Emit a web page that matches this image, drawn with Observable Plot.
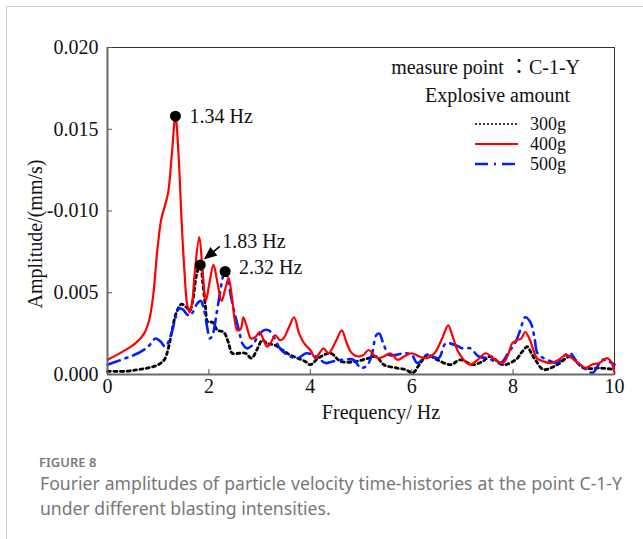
<!DOCTYPE html>
<html><head><meta charset="utf-8">
<script src="https://cdn.jsdelivr.net/npm/d3@7"></script>
<script src="https://cdn.jsdelivr.net/npm/@observablehq/plot@0.6"></script>
<style>
html,body{margin:0;padding:0;background:#fff;width:643px;height:539px;overflow:hidden;}
#lineTop{position:absolute;left:6px;top:6px;width:637px;height:0;border-top:1.5px solid #cfcfcf;}
#lineLeft{position:absolute;left:6px;top:6px;width:0;height:533px;border-left:1.5px solid #cfcfcf;}
#chart{position:absolute;left:0;top:0;}
#figlabel{position:absolute;left:39px;top:456px;font-family:"Noto Sans",sans-serif;font-size:13px;line-height:12px;font-weight:600;color:#7a7a7a;}
#caption{position:absolute;left:40px;top:471px;width:582px;text-align:justify;font-family:"Noto Sans",sans-serif;font-size:17.6px;line-height:25px;color:#777;}
</style></head>
<body>
<div id="lineTop"></div><div id="lineLeft"></div>
<div id="chart"></div>
<div id="figlabel">FIGURE 8</div>
<div id="caption">Fourier amplitudes of particle velocity time-histories at the point C-1-Y under different blasting intensities.</div>
<script>
// ---- data ----
const seriesNames = ["300g", "400g", "500g"];
const xTicks = [0, 2, 4, 6, 8, 10];
const xTickLabels = ["0", "2", "4", "6", "8", "10"];
const yTicks = [0, 0.005, 0.010, 0.015, 0.020];
const yTickLabels = ["0.000", "0.005", "-0.010", "0.015", "0.020"];

const freq300 = [0,0.36,0.6,0.8,1.0,1.12,1.2,1.28,1.36,1.46,1.56,1.62,1.68,1.75,1.83,1.88,1.93,1.98,2.07,2.17,2.29,2.38,2.46,2.6,2.72,2.84,2.96,3.05,3.15,3.3,3.45,3.6,3.75,3.9,4.0,4.16,4.4,4.6,4.9,5.15,5.3,5.45,5.7,5.88,6.02,6.15,6.31,6.5,6.77,6.96,7.2,7.4,7.55,7.8,8.05,8.18,8.28,8.36,8.44,8.6,8.87,9.13,9.39,9.72,10];
const amp300  = [0.0002,0.0002,0.0003,0.0004,0.0006,0.0009,0.0016,0.0028,0.0038,0.0043,0.0041,0.0039,0.0045,0.0060,0.0068,0.0056,0.0042,0.0032,0.0032,0.0027,0.0026,0.0020,0.0013,0.0013,0.0013,0.0010,0.0016,0.0021,0.0019,0.0018,0.0015,0.0012,0.0010,0.0008,0.0006,0.0010,0.0013,0.0008,0.0008,0.0010,0.0011,0.0006,0.0004,0.0003,0.0001,0.0006,0.0012,0.0009,0.0006,0.0009,0.0006,0.0008,0.0011,0.0006,0.0009,0.0014,0.0017,0.0013,0.0009,0.0003,0.0006,0.0011,0.0004,0.0004,0.0003];

const freq400 = [0,0.3,0.55,0.72,0.82,0.9,0.98,1.06,1.14,1.2,1.27,1.34,1.40,1.46,1.52,1.57,1.62,1.67,1.72,1.81,1.87,1.94,2.01,2.09,2.17,2.25,2.32,2.39,2.46,2.56,2.63,2.68,2.75,2.83,2.92,3.0,3.08,3.15,3.23,3.31,3.4,3.47,3.58,3.68,3.78,3.88,4.0,4.1,4.18,4.26,4.36,4.5,4.62,4.72,4.82,4.95,5.05,5.15,5.25,5.33,5.45,5.58,5.72,5.85,6.0,6.15,6.3,6.45,6.6,6.72,6.8,6.9,7.0,7.15,7.3,7.46,7.6,7.8,7.9,7.98,8.08,8.16,8.24,8.32,8.4,8.47,8.6,8.75,8.9,9.05,9.2,9.33,9.43,9.55,9.7,9.85,9.93,10];
const amp400  = [0.0009,0.0014,0.0019,0.0025,0.0033,0.0048,0.0075,0.0095,0.0104,0.0112,0.0135,0.0158,0.0135,0.0095,0.0062,0.0043,0.0038,0.0044,0.0062,0.0084,0.0066,0.0045,0.0056,0.0067,0.0056,0.0045,0.0052,0.0059,0.0046,0.0027,0.0028,0.0035,0.0029,0.0022,0.0023,0.0026,0.0021,0.0017,0.0020,0.0024,0.0021,0.0022,0.0029,0.0035,0.0025,0.0019,0.0015,0.0010,0.0013,0.0016,0.0013,0.0020,0.0027,0.0019,0.0013,0.0011,0.0012,0.0015,0.0012,0.0010,0.0011,0.0013,0.0009,0.0011,0.0013,0.0011,0.0010,0.0013,0.0022,0.0030,0.0024,0.0015,0.0010,0.0006,0.0009,0.0013,0.0010,0.0007,0.0012,0.0019,0.0021,0.0022,0.0026,0.0022,0.0015,0.0010,0.0008,0.0007,0.0009,0.0012,0.0009,0.0006,0.0004,0.0006,0.0007,0.0010,0.0008,0.0001];

const freq500 = [0,0.36,0.6,0.8,0.95,1.05,1.14,1.24,1.32,1.4,1.48,1.56,1.62,1.68,1.76,1.84,1.9,1.96,2.02,2.08,2.15,2.22,2.28,2.33,2.38,2.44,2.52,2.6,2.66,2.75,2.86,2.96,3.08,3.18,3.28,3.4,3.55,3.75,3.92,4.05,4.16,4.3,4.44,4.65,4.85,5.0,5.13,5.22,5.3,5.36,5.44,5.55,5.7,5.85,6.0,6.11,6.31,6.53,6.67,6.86,7.0,7.16,7.32,7.5,7.75,7.9,8.05,8.14,8.24,8.34,8.42,8.48,8.6,8.75,8.87,9.03,9.13,9.27,9.45,9.57,9.76,9.88,10];
const amp500  = [0.0006,0.0010,0.0013,0.0017,0.0022,0.0020,0.0017,0.0023,0.0032,0.0040,0.0040,0.0037,0.0036,0.0038,0.0043,0.0045,0.0040,0.0030,0.0022,0.0025,0.0037,0.0050,0.0060,0.0063,0.0057,0.0047,0.0036,0.0026,0.0019,0.0016,0.0018,0.0023,0.0027,0.0027,0.0023,0.0016,0.0012,0.0010,0.0013,0.0012,0.0010,0.0007,0.0008,0.0009,0.0009,0.0004,0.0006,0.0013,0.0024,0.0025,0.0019,0.0012,0.0012,0.0013,0.0012,0.0007,0.0012,0.0010,0.0019,0.0018,0.0016,0.0016,0.0011,0.0010,0.0007,0.0013,0.0020,0.0027,0.0035,0.0032,0.0023,0.0013,0.0010,0.0008,0.0007,0.0012,0.0013,0.0007,0.0003,0.0001,0.0009,0.0008,0.0006];

const peakFreqs = [1.34, 1.83, 2.32];
const peakAmps  = [0.0158, 0.0067, 0.0063];
const peakLabels = ["1.34 Hz", "1.83 Hz", "2.32 Hz"];

const legendTitle1a = "measure point";
const legendTitle1b = "\uFF1A";
const legendTitle1c = "C-1-Y";
const legendTitle2 = "Explosive amount";
const xLabel = "Frequency/ Hz";
const yLabel = "Amplitude/(mm/s)";

// ---- build tables ----
const toRows = (fs, as) => fs.map((f, i) => ({f, a: as[i]}));
const rows300 = toRows(freq300, amp300);
const rows400 = toRows(freq400, amp400);
const rows500 = toRows(freq500, amp500);
const peaks = peakFreqs.map((f, i) => ({f, a: peakAmps[i], label: peakLabels[i]}));

const serif = "'Liberation Serif','Times New Roman',serif";
const styles = {
  "300g": {stroke: "#000", strokeWidth: 2.8, dash: "3,3.5", legendWidth: 1.4, legendDash: "2,2"},
  "400g": {stroke: "#f00", strokeWidth: 2.2, dash: null, legendWidth: 2.2, legendDash: null},
  "500g": {stroke: "#0022ff", strokeWidth: 2.6, dash: "13,6,2,6", legendWidth: 2.4, legendDash: "13,6,2,6"}
};
// label offsets (pixels) of the peak annotations
const labelOffsets = [[14, 0], [22, -23], [14, -4]];

// legend & arrow drawn through the plot's dimensions / scales
function legendMark(index, scales, values, dims) {
  const g = d3.create("svg:g").attr("font-family", serif).attr("font-size", 20).attr("fill", "#111");
  const right = dims.width - dims.marginRight;
  const top = dims.marginTop;
  const t1 = g.append("text").attr("x", right - 34).attr("y", top + 21).attr("dy", "0.32em").attr("text-anchor", "end");
  t1.append("tspan").text(legendTitle1a + " ");
  t1.append("tspan").attr("font-family", "'Noto Sans CJK TC','Noto Sans CJK SC',serif").attr("font-size", 20).text(legendTitle1b);
  t1.append("tspan").text(legendTitle1c);
  g.append("text").attr("x", right - 44).attr("y", top + 49).attr("dy", "0.32em").attr("text-anchor", "end").text(legendTitle2);
  seriesNames.forEach((name, i) => {
    const y = top + 77 + i * 20;
    const s = styles[name];
    const ln = g.append("line").attr("x1", right - 139).attr("x2", right - 96).attr("y1", y).attr("y2", y)
      .attr("stroke", s.stroke).attr("stroke-width", s.legendWidth);
    if (s.legendDash) ln.attr("stroke-dasharray", s.legendDash);
    g.append("text").attr("x", right - 84).attr("y", y).attr("dy", "0.32em").attr("font-size", 18)
      .attr("text-anchor", "start").text(name);
  });
  return g.node();
}
function arrowMark(index, scales) {
  const px = scales.x(peaks[1].f), py = scales.y(peaks[1].a);
  const g = d3.create("svg:g");
  const x1 = px + 20, y1 = py - 18, x2 = px + 4, y2 = py - 5;
  const ang = Math.atan2(y2 - y1, x2 - x1);
  const L = 13, W = 5.5;
  const bx = x2 - L * Math.cos(ang), by = y2 - L * Math.sin(ang);
  g.append("line").attr("x1", x1).attr("y1", y1).attr("x2", bx).attr("y2", by).attr("stroke", "#000").attr("stroke-width", 1.6);
  const nx = -Math.sin(ang) * W, ny = Math.cos(ang) * W;
  g.append("path").attr("d", `M${x2},${y2}L${bx + nx},${by + ny}L${bx - nx},${by - ny}Z`).attr("fill", "#000");
  return g.node();
}

const lineMark = (rows, name) => Plot.line(rows, {
  x: "f", y: "a", curve: "catmull-rom",
  stroke: styles[name].stroke, strokeWidth: styles[name].strokeWidth,
  strokeDasharray: styles[name].dash || undefined
});

const chart = Plot.plot({
  width: 643, height: 430,
  marginLeft: 107, marginRight: 29, marginTop: 47, marginBottom: 56,
  style: {fontFamily: serif, fontSize: "20px", color: "#111", background: "transparent"},
  x: {domain: [0, 10], label: null},
  y: {domain: [0, 0.02], label: null},
  marks: [
    Plot.frame({stroke: "#333", strokeWidth: 1}),
    lineMark(rows300, "300g"),
    lineMark(rows500, "500g"),
    lineMark(rows400, "400g"),
    Plot.ruleY([0], {stroke: "#6a6a6a", strokeWidth: 2}),
    Plot.ruleX([0], {stroke: "#6a6a6a", strokeWidth: 2}),
    Plot.axisX({ticks: xTicks, tickSize: -5, stroke: "#555", tickFormat: () => "", label: null}),
    Plot.axisX({ticks: xTicks, tickSize: 0, tickPadding: 4, tickFormat: (d) => xTickLabels[xTicks.indexOf(d)], label: null, fill: "#111"}),
    Plot.axisY({ticks: yTicks, tickSize: -5, stroke: "#555", tickFormat: () => "", label: null}),
    Plot.axisY({ticks: yTicks, tickSize: 0, tickPadding: 9, tickFormat: (d) => yTickLabels[yTicks.findIndex(t => Math.abs(t - d) < 1e-9)], label: null, fill: "#111"}),
    Plot.text([xLabel], {frameAnchor: "bottom", text: d => d, textAnchor: "middle", lineAnchor: "middle", dx: 20, dy: 38, fontSize: 20, fill: "#111"}),
    Plot.text([yLabel], {frameAnchor: "left", text: d => d, textAnchor: "middle", lineAnchor: "middle", rotate: -90, dx: -72, dy: 23, fontSize: 20, fill: "#111"}),
    Plot.dot(peaks, {x: "f", y: "a", r: 5.5, fill: "#000"}),
    ...peaks.map((p, i) => Plot.text([p], {x: "f", y: "a", text: "label", textAnchor: "start", fontSize: 20, fill: "#111",
      dx: labelOffsets[i][0], dy: labelOffsets[i][1]})),
    arrowMark,
    legendMark
  ]
});
document.getElementById("chart").appendChild(chart);
</script>
</body></html>
